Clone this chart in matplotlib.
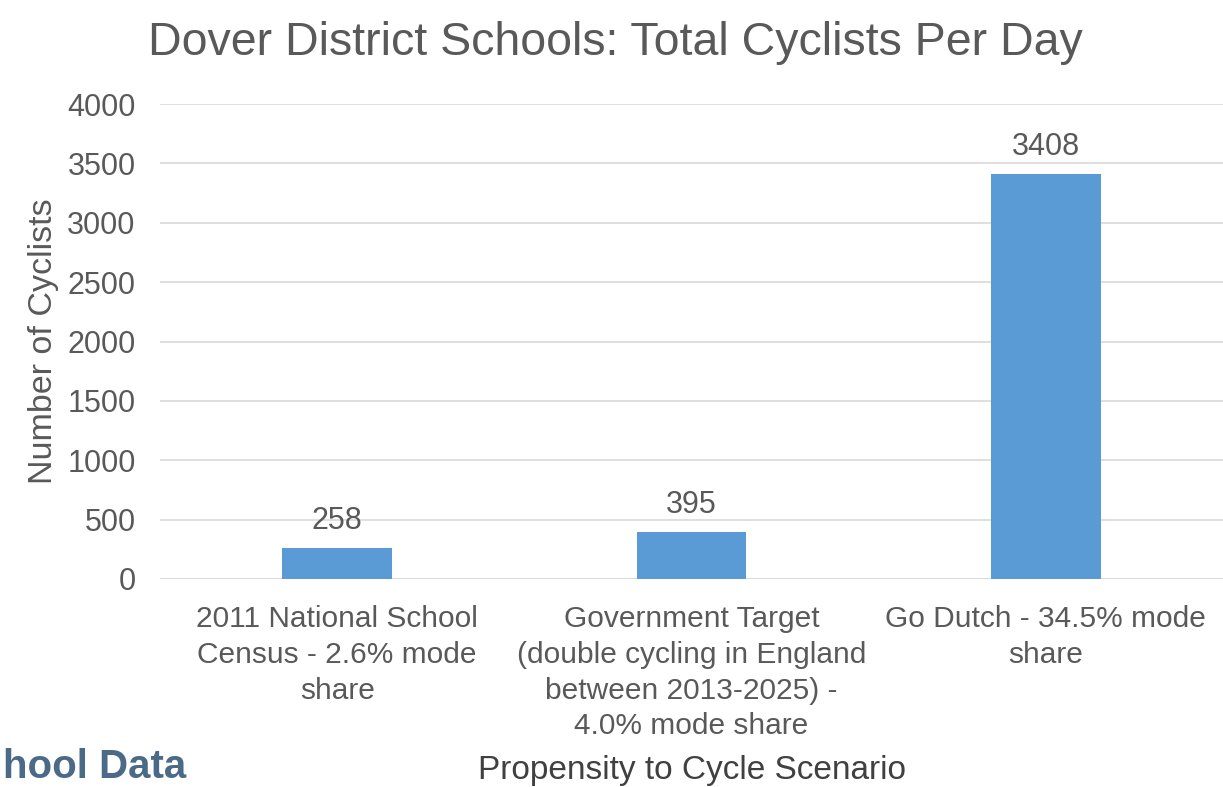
import matplotlib
matplotlib.use("Agg")
import matplotlib.pyplot as plt

categories = [
    "2011 National School\nCensus - 2.6% mode\nshare",
    "Government Target\n(double cycling in England\nbetween 2013-2025) -\n4.0% mode share",
    "Go Dutch - 34.5% mode\nshare",
]
values = [258, 395, 3408]
yticks = [0, 500, 1000, 1500, 2000, 2500, 3000, 3500, 4000]

plt.rcParams['font.family'] = ['Liberation Sans', 'DejaVu Sans']
txt = '#595959'

fig = plt.figure(figsize=(12.23, 7.87), dpi=100)
ax = fig.add_axes([160/1223, 208/787, 1 - 160/1223, 475/787])

x = list(range(len(categories)))
bars = ax.bar(x, values, width=0.31, color='#5b9bd5', zorder=3)
ax.set_xlim(-0.5, len(categories) - 0.5)
ax.set_ylim(0, 4000)
ax.set_yticks(yticks)
ax.set_yticklabels([str(t) for t in yticks])
ax.set_xticks(x)
ax.set_xticklabels(categories, linespacing=1.36)
ax.tick_params(axis='y', length=0, pad=17.5, labelsize=22, labelcolor=txt)
ax.tick_params(axis='x', length=0, pad=18.5, labelsize=21.5, labelcolor=txt)
ax.grid(axis='y', color='#d9d9d9', linewidth=1.2, zorder=0)
for s in ax.spines.values():
    s.set_visible(False)
ax.axhline(0, color='#d9d9d9', linewidth=1.2, zorder=1)

for xi, v in zip(x, values):
    ax.annotate(str(v), (xi, v), xytext=(0, 9), textcoords='offset points',
                ha='center', va='bottom', fontsize=22, color=txt)

ax.set_ylabel('Number of Cyclists', fontsize=24.5, color=txt, labelpad=6)
fig.text(692/1223, 1 - 770/787, 'Propensity to Cycle Scenario', ha='center', va='center',
         fontsize=24, color='#404040')
fig.text(615/1223, 1 - 43/787, 'Dover District Schools: Total Cyclists Per Day', ha='center',
         va='center', fontsize=33.5, color=txt)
fig.text(3/1223, 1/787, 'hool Data', ha='left', va='bottom', fontsize=29,
         fontweight='bold', color='#4a6a88')

fig.savefig('out.png', dpi=100)
